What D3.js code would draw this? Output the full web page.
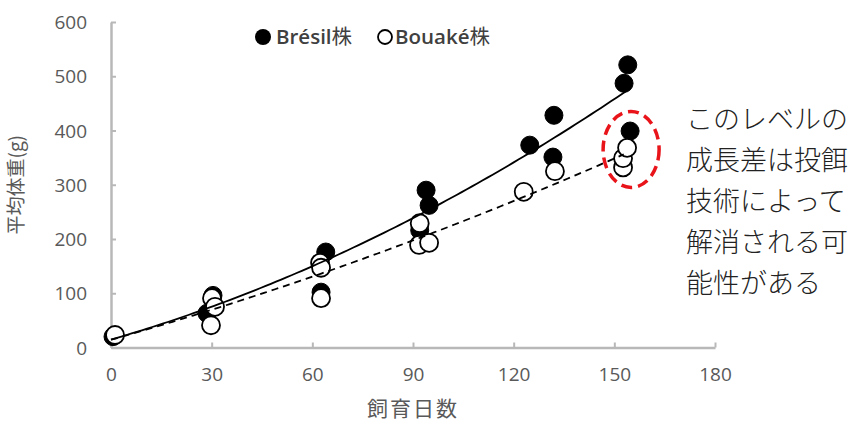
<!DOCTYPE html>
<html>
<head>
<meta charset="utf-8">
<script src="https://cdn.jsdelivr.net/npm/d3@7"></script>
<style>
  html, body { margin: 0; padding: 0; background: #fff; }
  svg { display: block; }
</style>
</head>
<body>
<svg id="chart" width="854" height="421"></svg>
<script>
// Growth of two strains: rearing days vs mean body weight (g)
const seriesNames = ["Brésil", "Bouaké"];
const strainSuffix = "株";

const bresilDays   = [0.6, 28.6, 30.4, 62.6, 64.0, 92.0, 93.9, 94.8, 124.8, 131.7, 132.0, 152.9, 154.0, 154.7];
const bresilWeight = [20,  63,   96,   102,  176,  216,  290,  262,  373,   351,   428,   487,   521,   399];

const bouakeDays   = [1.2, 29.8, 30.1, 31.0, 62.3, 62.6, 62.6, 91.8, 92.0, 94.8, 123.0, 132.3, 152.6, 152.6, 153.8];
const bouakeWeight = [23,  41,   91,   75,   156,  147,  91,   189,  229,  193,  287,   325,   332,   349,   368];

const xTicks = [0, 30, 60, 90, 120, 150, 180];
const yTicks = [0, 100, 200, 300, 400, 500, 600];

const xTitle = "飼育日数";
const yTitle = "平均体重(g)";
const noteLines = ["このレベルの", "成長差は投餌", "技術によって", "解消される可", "能性がある"];

const svg = d3.select("#chart");
const margin = { left: 111, top: 22, right: 139, bottom: 73.5 };
const W = 854, H = 421;
const x = d3.scaleLinear().domain([0, 180]).range([margin.left, W - margin.right]);
const y = d3.scaleLinear().domain([0, 600]).range([H - margin.bottom, margin.top]);

const axisColor = "#b8b8b8";
const labelColor = "#595959";
const font = "'Open Sans', 'Noto Sans CJK JP', sans-serif";

// Axes with short inward ticks
const gx = svg.append("g")
  .attr("transform", `translate(0,${y(0)})`)
  .call(d3.axisBottom(x).tickValues(xTicks).tickSizeInner(-5).tickSizeOuter(0).tickPadding(27));
const gy = svg.append("g")
  .attr("transform", `translate(${x(0)},0)`)
  .call(d3.axisLeft(y).tickValues(yTicks).tickSizeInner(-5).tickSizeOuter(0).tickPadding(24));

[gx, gy].forEach(g => {
  g.select(".domain").attr("stroke", axisColor).attr("stroke-width", 2.5);
  g.selectAll(".tick line").attr("stroke", axisColor).attr("stroke-width", 2);
  g.selectAll(".tick text")
    .attr("fill", labelColor)
    .style("font-family", font)
    .style("font-size", "19px");
});
gy.selectAll(".tick text").attr("dy", "0.35em");
gx.selectAll(".tick text").attr("dy", "0.35em");

// Axis titles
svg.append("text")
  .attr("x", x(90)).attr("y", 410)
  .attr("text-anchor", "middle").attr("dominant-baseline", "middle")
  .attr("fill", labelColor)
  .style("font-family", "'Noto Sans CJK JP', sans-serif")
  .style("font-size", "21px").style("letter-spacing", "2px")
  .text(xTitle);

svg.append("text")
  .attr("transform", `translate(18,${(y(0) + y(600)) / 2}) rotate(-90)`)
  .attr("text-anchor", "middle").attr("dominant-baseline", "middle")
  .attr("fill", labelColor)
  .style("font-family", "'Noto Sans CJK JP', sans-serif")
  .style("font-size", "19px")
  .text(yTitle);

// Least-squares quadratic trend through each series
function quadFit(xs, ys) {
  let n = xs.length, s = [0,0,0,0,0], t = [0,0,0];
  for (let i = 0; i < n; i++) {
    const xi = xs[i], yi = ys[i];
    let p = 1;
    for (let k = 0; k <= 4; k++) { s[k] += p; if (k <= 2) t[k] += p * yi; p *= xi; }
  }
  const A = [[s[0], s[1], s[2], t[0]], [s[1], s[2], s[3], t[1]], [s[2], s[3], s[4], t[2]]];
  for (let c = 0; c < 3; c++) {
    for (let r = c + 1; r < 3; r++) {
      const f = A[r][c] / A[c][c];
      for (let k = c; k < 4; k++) A[r][k] -= f * A[c][k];
    }
  }
  const coef = [0, 0, 0];
  for (let r = 2; r >= 0; r--) {
    let v = A[r][3];
    for (let k = r + 1; k < 3; k++) v -= A[r][k] * coef[k];
    coef[r] = v / A[r][r];
  }
  return d => coef[0] + coef[1] * d + coef[2] * d * d;
}

// Markers: Brésil filled, Bouaké open (drawn on top)
const bresil = bresilDays.map((d, i) => ({ d, w: bresilWeight[i] }));
const bouake = bouakeDays.map((d, i) => ({ d, w: bouakeWeight[i] }));

svg.append("g").selectAll("circle").data(bresil).join("circle")
  .attr("cx", p => x(p.d)).attr("cy", p => y(p.w)).attr("r", 9)
  .attr("fill", "#000").attr("stroke", "#000").attr("stroke-width", 1);

svg.append("g").selectAll("circle").data(bouake).join("circle")
  .attr("cx", p => x(p.d)).attr("cy", p => y(p.w)).attr("r", 9)
  .attr("fill", "#fff").attr("stroke", "#000").attr("stroke-width", 1.8);

// Trend curves
const line = d3.line().x(p => x(p[0])).y(p => y(p[1]));
function trend(xs, ys) {
  const f = quadFit(xs, ys);
  const d0 = 0, d1 = d3.max(xs) - 1;
  return d3.range(0, 101).map(i => { const d = d0 + (d1 - d0) * i / 100; return [d, f(d)]; });
}
svg.append("path").datum(trend(bresilDays, bresilWeight))
  .attr("d", line).attr("fill", "none").attr("stroke", "#000").attr("stroke-width", 1.8);
svg.append("path").datum(trend(bouakeDays, bouakeWeight))
  .attr("d", line).attr("fill", "none").attr("stroke", "#000").attr("stroke-width", 1.8)
  .attr("stroke-dasharray", "7,5");

// Highlight around the final cluster
svg.append("ellipse")
  .attr("cx", x(155)).attr("cy", y(365)).attr("rx", 28).attr("ry", 38)
  .attr("fill", "none").attr("stroke", "#e8141a").attr("stroke-width", 3.5)
  .attr("stroke-dasharray", "11,6");

// Legend
const legend = svg.append("g").style("font-family", font).style("font-size", "20.5px");
function legendLabel(xPos, name) {
  const t = legend.append("text").attr("x", xPos).attr("y", 37).attr("dy", "0.35em").attr("fill", "#404040");
  t.append("tspan").style("font-weight", 600).text(name);
  t.append("tspan").style("font-weight", 400).style("font-family", "'Noto Sans CJK JP', sans-serif").text(strainSuffix);
}
legend.append("circle").attr("cx", 263).attr("cy", 37).attr("r", 8).attr("fill", "#000");
legendLabel(276, seriesNames[0]);
legend.append("circle").attr("cx", 385).attr("cy", 37).attr("r", 7)
  .attr("fill", "#fff").attr("stroke", "#000").attr("stroke-width", 1.8);
legendLabel(395, seriesNames[1]);

// Side note
svg.append("g").selectAll("text").data(noteLines).join("text")
  .attr("x", 686).attr("y", (t, i) => 122 + i * 41)
  .attr("dominant-baseline", "middle")
  .attr("fill", "#222")
  .style("font-family", "'Noto Sans CJK JP', sans-serif")
  .style("font-size", "27px")
  .style("font-weight", 300)
  .text(t => t);
</script>
</body>
</html>
